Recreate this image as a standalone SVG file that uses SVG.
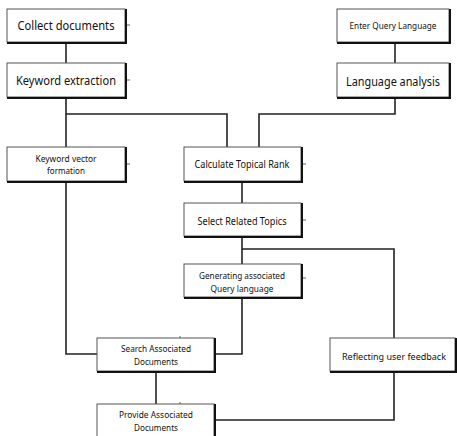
<svg xmlns="http://www.w3.org/2000/svg" width="457" height="436" viewBox="0 0 457 436">
<style>
.box{fill:#fff;stroke:#555;stroke-width:1}
.sh{fill:none;stroke:#111;stroke-width:2}
.ln{fill:none;stroke:#222;stroke-width:1.6}
.tk{fill:none;stroke:#666;stroke-width:1}
text{font-family:"Noto Sans","Liberation Sans",sans-serif;fill:#111;text-anchor:middle}
.big{font-size:12px}
.mid{font-size:10px}
.two{font-size:9.5px}
.sm{font-size:9px}
</style>
<rect width="457" height="436" fill="#fff"/>
<g id="connectors">
<path class="ln" d="M66 42V63"/>
<path class="ln" d="M66 97V147"/>
<path class="ln" d="M66 114H227V147"/>
<path class="ln" d="M395 42V63"/>
<path class="ln" d="M395 97V114H259V147"/>
<path class="ln" d="M66 181V354H97"/>
<path class="ln" d="M242 181V203"/>
<path class="ln" d="M242 236V264"/>
<path class="ln" d="M242 249H394V338"/>
<path class="ln" d="M242 297V354H214"/>
<path class="ln" d="M156 371V404"/>
<path class="ln" d="M394 371V420H214"/>
</g>
<g id="collect">
<rect class="box" x="7" y="9" width="118" height="33"/>
<path class="sh" d="M126 9V43H7"/>
<path class="tk" d="M127 25H130"/>
<text class="big" x="66" y="30" textLength="97" lengthAdjust="spacingAndGlyphs">Collect documents</text>
</g>
<g id="keyword-extraction">
<rect class="box" x="7" y="63" width="118" height="34"/>
<path class="sh" d="M126 63V98H7"/>
<path class="tk" d="M127 80H130"/>
<text class="big" x="66" y="85" textLength="100" lengthAdjust="spacingAndGlyphs">Keyword extraction</text>
</g>
<g id="enter-query">
<rect class="box" x="337" y="9" width="112" height="33"/>
<path class="sh" d="M450 9V43H337"/>
<text class="sm" x="393" y="29" textLength="87" lengthAdjust="spacingAndGlyphs">Enter Query Language</text>
</g>
<g id="language-analysis">
<rect class="box" x="337" y="63" width="112" height="34"/>
<path class="sh" d="M450 63V98H337"/>
<text class="big" x="393" y="85.5" textLength="94" lengthAdjust="spacingAndGlyphs">Language analysis</text>
</g>
<g id="keyword-vector">
<rect class="box" x="7" y="147" width="118" height="34"/>
<path class="sh" d="M126 147V182H7"/>
<path class="tk" d="M127 164H130"/>
<text class="two" x="66" y="162" textLength="61" lengthAdjust="spacingAndGlyphs">Keyword vector</text>
<text class="two" x="66" y="174" textLength="38" lengthAdjust="spacingAndGlyphs">formation</text>
</g>
<g id="calculate">
<rect class="box" x="184" y="147" width="117" height="34"/>
<path class="sh" d="M302 147V182H184"/>
<path class="tk" d="M303 164H306"/>
<text class="mid" x="242" y="168" textLength="95" lengthAdjust="spacingAndGlyphs">Calculate Topical Rank</text>
</g>
<g id="select">
<rect class="box" x="184" y="203" width="117" height="33"/>
<path class="sh" d="M302 203V237H184"/>
<path class="tk" d="M303 220H306"/>
<text class="mid" x="242" y="225" textLength="89" lengthAdjust="spacingAndGlyphs">Select Related Topics</text>
</g>
<g id="generating">
<rect class="box" x="184" y="264" width="117" height="33"/>
<path class="sh" d="M302 264V298H184"/>
<path class="tk" d="M303 278H306"/>
<text class="two" x="242" y="279" textLength="86" lengthAdjust="spacingAndGlyphs">Generating associated</text>
<text class="two" x="242" y="292" textLength="63" lengthAdjust="spacingAndGlyphs">Query language</text>
</g>
<g id="search">
<rect class="box" x="97" y="338" width="117" height="33"/>
<path class="sh" d="M215 338V372H97"/>
<path class="tk" d="M180 336V338"/>
<text class="two" x="156" y="352" textLength="70" lengthAdjust="spacingAndGlyphs">Search Associated</text>
<text class="two" x="156" y="365" textLength="44" lengthAdjust="spacingAndGlyphs">Documents</text>
</g>
<g id="provide">
<rect class="box" x="97" y="404" width="117" height="34"/>
<path class="sh" d="M215 404V438"/>
<path class="tk" d="M180 402V404"/>
<text class="two" x="156" y="418" textLength="74" lengthAdjust="spacingAndGlyphs">Provide Associated</text>
<text class="two" x="156" y="431" textLength="44" lengthAdjust="spacingAndGlyphs">Documents</text>
</g>
<g id="reflecting">
<rect class="box" x="330" y="338" width="125" height="33"/>
<path class="sh" d="M456 338V372H330"/>
<text x="394" y="359.5" font-size="9.5" textLength="104" lengthAdjust="spacingAndGlyphs">Reflecting user feedback</text>
</g>
</svg>
